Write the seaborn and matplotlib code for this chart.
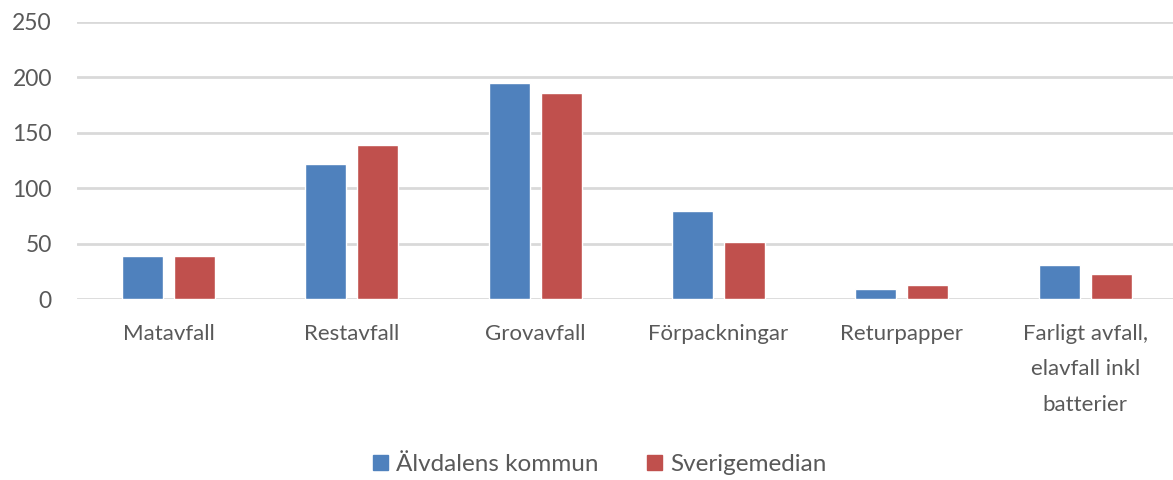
import seaborn as sns
import matplotlib.pyplot as plt
import pandas as pd

# Data
kategorier = ["Matavfall", "Restavfall", "Grovavfall", "Förpackningar",
              "Returpapper", "Farligt avfall,\nelavfall inkl\nbatterier"]
alvdalen = [39, 122, 195, 80, 9, 31]
sverige = [39, 139, 186, 52, 13, 22.5]
serier = ["Älvdalens kommun", "Sverigemedian"]
farger = ["#4F81BD", "#C0504D"]
yticks = [0, 50, 100, 150, 200, 250]

df = pd.DataFrame({
    "kategori": kategorier * 2,
    "serie": [serier[0]] * len(kategorier) + [serier[1]] * len(kategorier),
    "varde": alvdalen + sverige,
})

sns.set_style("white")
plt.rcParams["font.family"] = ["Lato", "DejaVu Sans"]
textfarg = "#595959"

fig = plt.figure(figsize=(11.73, 4.8), dpi=100)
# plot area runs past the right edge, like the cropped original
ax = fig.add_axes([0.0656, 0.3765, 0.9377, 0.5777])

sns.barplot(data=df, x="kategori", y="varde", hue="serie", order=kategorier,
            hue_order=serier, palette=farger, width=0.567, gap=0.21,
            saturation=1, ax=ax, legend=False)

ax.set_ylim(0, 250)
ax.set_yticks(yticks)
ax.yaxis.grid(True, color="#D9D9D9", linewidth=2)
ax.set_axisbelow(True)
for s in ax.spines.values():
    s.set_visible(False)
ax.set_xlabel("")
ax.set_ylabel("")
ax.tick_params(axis="both", length=0, colors=textfarg)
ax.tick_params(axis="y", pad=18, labelsize=16.5)
ax.tick_params(axis="x", pad=18, labelsize=16)
for t in ax.get_xticklabels():
    t.set_linespacing(1.95)

handles = [plt.Rectangle((0, 0), 1, 1, color=c) for c in farger]
fig.legend(handles, serier, loc="center", bbox_to_anchor=(0.5115, 0.032),
           ncol=2, frameon=False, fontsize=17.5, handlelength=0.62,
           handleheight=0.62, handletextpad=0.33, columnspacing=2.0,
           labelcolor=textfarg)

fig.savefig("out.png", dpi=100)
